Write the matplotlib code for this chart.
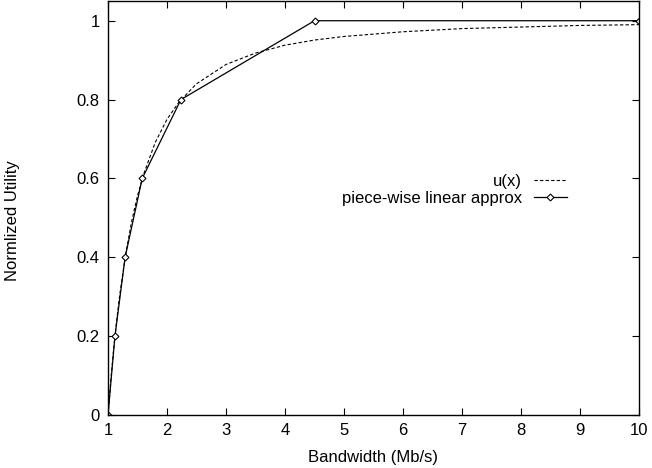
import numpy as np
import matplotlib.pyplot as plt

plt.rcParams["font.family"] = ["Liberation Sans", "DejaVu Sans"]
plt.rcParams["font.size"] = 12

# u(x)
ux = [1.0, 1.05, 1.1, 1.15, 1.2, 1.3, 1.4, 1.5, 1.6, 1.8, 2.0, 2.2, 2.5, 3.0, 3.5,
      4.0, 4.5, 5.0, 6.0, 7.0, 8.0, 9.0, 10.0]
uy = [0.0, 0.093, 0.174, 0.244, 0.306, 0.408, 0.490, 0.556, 0.609, 0.691, 0.750,
      0.793, 0.840, 0.889, 0.918, 0.938, 0.951, 0.960, 0.972, 0.980, 0.984, 0.988, 0.990]

# piece-wise linear approximation points
px = [1.0, 1.118, 1.29, 1.58, 2.236, 4.5, 10.0]
py = [0.0, 0.2, 0.4, 0.6, 0.8, 1.0, 1.0]

fig = plt.figure(figsize=(6.52, 4.68), dpi=100)
ax = fig.add_axes([108 / 652, 53 / 468, 531 / 652, 414 / 468])

ax.plot(ux, uy, color="black", linestyle=(0, (3, 2)), linewidth=0.8, label="u(x)")
ax.plot(px, py, color="black", linewidth=0.9, marker="D", markersize=3.5,
        markerfacecolor="white", markeredgewidth=0.8, label="piece-wise linear approx")

ax.set_xlim(1, 10)
ax.set_ylim(0, 1.05)
ax.set_xticks(range(1, 11))
ax.set_yticks([0, 0.2, 0.4, 0.6, 0.8, 1])
ax.set_yticklabels(["0", "0.2", "0.4", "0.6", "0.8", "1"])
ax.tick_params(direction="in", top=True, right=True, length=5, width=0.8, pad=6)
for s in ax.spines.values():
    s.set_linewidth(1.0)

ax.set_xlabel("Bandwidth (Mb/s)")
ax.xaxis.set_label_coords(0.5, -0.085)
ax.set_ylabel("Normlized Utility")
ax.yaxis.set_label_coords(-0.165, 0.47)

ax.legend(loc="upper right", bbox_to_anchor=(0.88, 0.602), frameon=False,
          markerfirst=False, handlelength=2.0, handletextpad=0.7,
          labelspacing=0.1, borderpad=0)

fig.savefig("out.png", dpi=100)
